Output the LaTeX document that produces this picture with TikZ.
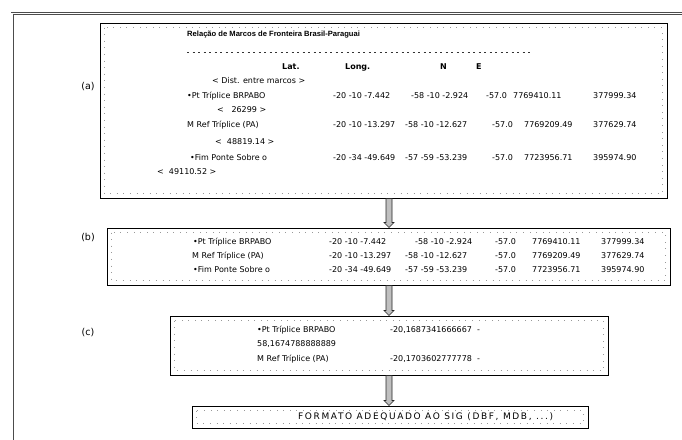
\documentclass[tikz,border=0pt]{standalone}
\usepackage{fontspec}
\setmainfont{DejaVu Sans}
\newfontfamily\titlefont{Liberation Sans}
\newfontfamily\widefont{DejaVu Sans}[LetterSpace=18]
\usetikzlibrary{calc,shadows}
\begin{document}
\begin{tikzpicture}[x=1pt,y=-1pt,
  box/.style={draw=black, line width=1pt, fill=white, inner sep=0pt,
    drop shadow={shadow xshift=1.3pt, shadow yshift=-1.3pt, fill=black!70, opacity=1}},
  inframe/.style={draw=black!40, line width=0.4pt, dash pattern=on 0.6pt off 6pt},
  txt/.style={anchor=west, inner sep=0pt, font=\fontsize{8}{10}\selectfont},
  hdr/.style={txt, font=\bfseries\fontsize{8}{10}\selectfont},
  lbl/.style={anchor=center, inner sep=0pt, font=\fontsize{9.5}{12}\selectfont},
  blockarr/.style={draw=black!85, line width=0.6pt, fill=black!25,
    to path={let \p1=(\tikztostart), \p2=(\tikztotarget) in
      (\x1-3pt,\y1) -- (\x1-3pt,\y2+5pt) -- (\x1-5pt,\y2+5pt) -- (\x1,\y2)
      -- (\x1+5pt,\y2+5pt) -- (\x1+3pt,\y2+5pt) -- (\x1+3pt,\y1) -- cycle}}
]
\useasboundingbox (0,0) rectangle (682,439);
\fill[white] (0,0) rectangle (682,439);
\clip (0,0) rectangle (682,439);

% outer frame
\draw[draw=black!70, line width=0.8pt, double=white, double distance=1.4pt] (12,450) -- (12,13.5) -- (700,13.5);

% boxes
\node[box, minimum width=567pt, minimum height=175pt] (a) at (383.5,110.5) {};
\node[box, minimum width=563pt, minimum height=57pt] (b) at (388.5,256.5) {};
\node[box, minimum width=438pt, minimum height=59pt] (c) at (389,345.5) {};
\node[box, minimum width=396pt, minimum height=22pt] (d) at (390,417) {};

\foreach \n in {a,b,c,d}{
  \draw[inframe] ([shift={(5pt,-5pt)}]\n.north west) rectangle ([shift={(-5pt,5pt)}]\n.south east);
}

% connectors
\coordinate (ax) at (389,0);
\draw[blockarr] (a.south -| ax) to (b.north -| ax);
\draw[blockarr] (b.south -| ax) to (c.north -| ax);
\draw[blockarr] (c.south -| ax) to (d.north -| ax);

% labels
\node[lbl] (la) at (88,87) {(a)};
\node[lbl] (lb) at (88,238) {(b)};
\node[lbl] (lc) at (88,333) {(c)};

% ---- box (a)
\node[txt, font=\titlefont\bfseries\fontsize{7.6}{9}\selectfont] (title) at (187,35) {Relação de Marcos de Fronteira Brasil-Paraguai};
\draw[black!80, line width=0.9pt, dash pattern=on 2.2pt off 3.3pt] (187,52) -- (530,52);
\node[hdr] (hlat) at (282,67) {Lat.};
\node[hdr] (hlong) at (345,67) {Long.};
\node[hdr] (hn) at (440,67) {N};
\node[hdr] (he) at (476,67) {E};
\node[txt] (hd) at (212,81) {< Dist. entre marcos >};

\node[txt] (a1n) at (187,96) {•Pt Tríplice BRPABO};
\node[txt] (a1a) at (333,96) {-20 -10 -7.442};
\node[txt] (a1b) at (411,96) {-58 -10 -2.924};
\node[txt] (a1c) at (486,96) {-57.0};
\node[txt] (a1d) at (513,96) {7769410.11};
\node[txt] (a1e) at (593,96) {377999.34};
\node[txt] (d1) at (217,110) {< \ \ 26299 >};

\node[txt] (a2n) at (187,125) {M Ref Tríplice (PA)};
\node[txt] (a2a) at (333,125) {-20 -10 -13.297};
\node[txt] (a2b) at (405,125) {-58 -10 -12.627};
\node[txt] (a2c) at (492,125) {-57.0};
\node[txt] (a2d) at (524,125) {7769209.49};
\node[txt] (a2e) at (593,125) {377629.74};
\node[txt] (d2) at (215,142) {< \ 48819.14 >};

\node[txt] (a3n) at (190,158) {•Fim Ponte Sobre o};
\node[txt] (a3a) at (333,158) {-20 -34 -49.649};
\node[txt] (a3b) at (405,158) {-57 -59 -53.239};
\node[txt] (a3c) at (492,158) {-57.0};
\node[txt] (a3d) at (524,158) {7723956.71};
\node[txt] (a3e) at (593,158) {395974.90};
\node[txt] (d3) at (157,172) {< \ 49110.52 >};

% ---- box (b)
\node[txt] (b1n) at (193,242) {•Pt Tríplice BRPABO};
\node[txt] (b1a) at (329,242) {-20 -10 -7.442};
\node[txt] (b1b) at (415,242) {-58 -10 -2.924};
\node[txt] (b1c) at (495,242) {-57.0};
\node[txt] (b1d) at (532,242) {7769410.11};
\node[txt] (b1e) at (601,242) {377999.34};

\node[txt] (b2n) at (192,256) {M Ref Tríplice (PA)};
\node[txt] (b2a) at (329,256) {-20 -10 -13.297};
\node[txt] (b2b) at (405,256) {-58 -10 -12.627};
\node[txt] (b2c) at (495,256) {-57.0};
\node[txt] (b2d) at (532,256) {7769209.49};
\node[txt] (b2e) at (601,256) {377629.74};

\node[txt] (b3n) at (193,270) {•Fim Ponte Sobre o};
\node[txt] (b3a) at (329,270) {-20 -34 -49.649};
\node[txt] (b3b) at (405,270) {-57 -59 -53.239};
\node[txt] (b3c) at (495,270) {-57.0};
\node[txt] (b3d) at (532,270) {7723956.71};
\node[txt] (b3e) at (601,270) {395974.90};

% ---- box (c)
\node[txt] (c1n) at (257,330) {•Pt Tríplice BRPABO};
\node[txt] (c1v) at (390,330) {-20,1687341666667 \ -};
\node[txt] (c2v) at (257,344) {58,1674788888889};
\node[txt] (c3n) at (257,359) {M Ref Tríplice (PA)};
\node[txt] (c3v) at (390,359) {-20,1703602777778 \ -};

% ---- box (d)
\node[txt, font=\widefont\fontsize{9}{11}\selectfont] (dt) at (298,417) {FORMATO ADEQUADO AO SIG (DBF, MDB, ...)};
\end{tikzpicture}
\end{document}
